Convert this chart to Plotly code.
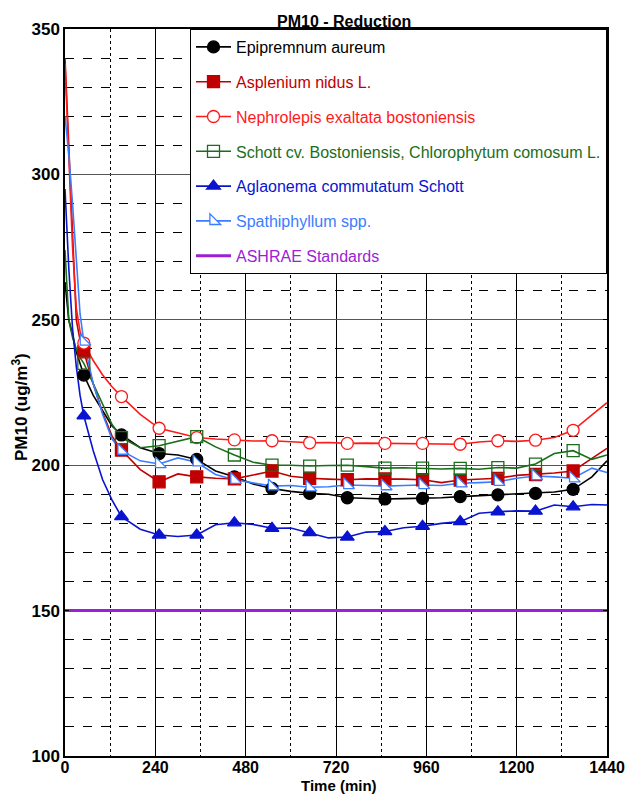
import plotly.graph_objects as go

# ---------------- data ----------------
time_min = [0, 10, 20, 30, 40, 50, 75, 100, 125, 150, 200, 250, 300, 350, 400, 450, 500,
            550, 600, 650, 700, 750, 800, 850, 900, 950, 1000, 1050, 1100, 1150, 1200,
            1250, 1300, 1350, 1400, 1440]

epipremnum = [263, 250, 245, 239, 235, 231, 224, 218.5, 213.5, 210.4, 206, 204, 203.5, 202,
              198, 196, 193.5, 192, 191, 190.3, 190, 188.8, 188.5, 188.4, 188.5, 188.6,
              188.8, 189.2, 189.5, 189.8, 190, 190.3, 190.8, 191.7, 196, 201.5]
asplenium = [340, 308, 276, 250, 243, 239, 228, 218, 210, 205.2, 198.5, 194.3, 197, 196,
             195.5, 195.3, 196.6, 198, 196.2, 195.5, 195.2, 195, 195.3, 195.3, 195.2, 195,
             194, 194.9, 195.2, 195.5, 196.5, 196.8, 197.3, 198, 202.5, 205.8]
nephrolepis = [338, 306, 275, 254, 246, 242, 236, 231, 227, 223.6, 217.5, 212.7, 211, 209.5,
               209, 208.7, 208.3, 208.4, 208, 207.7, 207.8, 207.5, 207.6, 207.5, 207.4,
               207.5, 207.3, 207.2, 208, 208.4, 208.2, 208.6, 209.5, 212, 217.3, 221.5]
schott = [274, 250, 244, 240, 237, 235, 228, 221, 214, 209.5, 206, 206.7, 208.2, 209.8,
          206.3, 203.5, 201, 200, 200, 199.7, 199.9, 200, 199.5, 199, 199.1, 199, 198.7,
          198.9, 198.6, 199.2, 199, 200.4, 204, 205, 202, 203.5]
aglaonema = [295, 268, 247, 234, 224, 217, 205, 195, 188, 182.3, 178, 176, 175.5, 176,
             179.5, 180.2, 179.6, 178.3, 178.4, 176.8, 175, 175.3, 177, 177.2, 178.5, 179,
             180, 180.6, 183.5, 184, 184.3, 184.2, 186.3, 185.7, 186.5, 186.3]
spathiphyllum = [320, 307, 290, 270, 252, 242.5, 228, 217.5, 209, 205, 201.5, 200.4, 202.5,
                 201, 196.8, 195, 194, 192.8, 193, 192.4, 192.6, 193.2, 193, 192.8, 193,
                 193.2, 193, 193.8, 194, 194.3, 195.5, 196.3, 196, 195.5, 199, 197.5]
ashrae_time = [0, 1440]
ashrae = [150, 150]

series_names = ["Epipremnum aureum", "Asplenium nidus L.", "Nephrolepis exaltata bostoniensis",
                "Schott cv. Bostoniensis, Chlorophytum comosum L.", "Aglaonema commutatum Schott",
                "Spathiphyllum spp."]
series_values = [epipremnum, asplenium, nephrolepis, schott, aglaonema, spathiphyllum]
ashrae_name = "ASHRAE Standards"

x_ticks = [0, 240, 480, 720, 960, 1200, 1440]
y_ticks = [100, 150, 200, 250, 300, 350]

# ---------------- styles ----------------
colors = ["#000000", "#c00000", "#ff1a1a", "#1a6e1a", "#0a14d0", "#3a7dff"]
symbols = ["circle", "square", "circle", "square", "triangle-up", "triangle-sw"]
marker_fill = ["#000000", "#c00000", "#ffffff", "rgba(255,255,255,0)", "#0a14d0", "#ffffff"]
ashrae_color = "#9b22d4"
FONT = "Liberation Sans, Arial, sans-serif"

fig = go.Figure()

for i, (name, vals) in enumerate(zip(series_names, series_values)):
    fig.add_trace(go.Scatter(
        x=time_min, y=vals, mode="lines",
        line=dict(color=colors[i], width=1.6),
        showlegend=False, legendgroup=f"g{i}", hoverinfo="skip"))

for i, (name, vals) in enumerate(zip(series_names, series_values)):
    mx, my = [], []
    for t, v in zip(time_min, vals):
        if t % 100 == 50:
            mx += [t, None]
            my += [v, None]
    fig.add_trace(go.Scatter(
        x=mx, y=my, mode="lines+markers", connectgaps=False,
        name=f"<span style='color:{colors[i]}'>{name}</span>",
        legendgroup=f"g{i}",
        line=dict(color=colors[i], width=1.6),
        marker=dict(symbol=symbols[i], size=12, color=marker_fill[i],
                    line=dict(color=colors[i], width=1.3))))

fig.add_trace(go.Scatter(
    x=ashrae_time, y=ashrae, mode="lines",
    name=f"<span style='color:{ashrae_color}'>{ashrae_name}</span>",
    legendgroup="g6",
    line=dict(color=ashrae_color, width=3)))

L, R, T, B = 65, 18, 29, 38
W, H = 625, 794
ph = H - T - B

fig.update_layout(
    width=W, height=H,
    margin=dict(l=L, r=R, t=T, b=B, pad=0, autoexpand=False),
    paper_bgcolor="white", plot_bgcolor="white",
    font=dict(family=FONT, color="black"),
    legend=dict(x=1, xanchor="right", y=1, yanchor="top",
                bgcolor="white", bordercolor="black", borderwidth=1,
                font=dict(family=FONT, size=16),
                tracegroupgap=11, traceorder="grouped", itemwidth=35),
    xaxis=dict(range=[0, 1440], tickvals=x_ticks, ticktext=[str(v) for v in x_ticks],
               showline=True, mirror="ticks", linecolor="black", linewidth=1.5,
               ticks="inside", ticklen=4, tickcolor="black",
               showgrid=True, gridcolor="black", gridwidth=1,
               minor=dict(dtick=120, tick0=0, showgrid=True, griddash="dot",
                          gridcolor="black", gridwidth=1, ticks=""),
               tickfont=dict(family=FONT, size=16, weight="bold"),
               ticklabelstandoff=-4,
               ticklabeloverflow="allow", automargin=False,
               zeroline=False),
    yaxis=dict(range=[100, 350], tickvals=y_ticks, ticktext=[str(v) for v in y_ticks],
               showline=True, mirror="ticks", linecolor="black", linewidth=1.5,
               ticks="inside", ticklen=4, tickcolor="black",
               showgrid=True, gridcolor="#555555", gridwidth=1,
               minor=dict(dtick=10, tick0=100, showgrid=True, griddash="dash",
                          gridcolor="black", gridwidth=1, ticks=""),
               tickfont=dict(family=FONT, size=17, weight="bold"),
               automargin=False,
               zeroline=False),
    annotations=[
        dict(text="PM10 - Reduction", xref="paper", yref="paper", x=0.515, y=1,
             yanchor="middle", showarrow=False, yshift=8,
             font=dict(family=FONT, size=16, weight="bold")),
        dict(text="Time (min)", xref="paper", yref="paper", x=0.505, y=-(786 - 756) / ph,
             yanchor="middle", showarrow=False,
             font=dict(family=FONT, size=15, weight="bold")),
        dict(text="PM10 (ug/m<sup>3</sup>)", xref="paper", yref="paper",
             x=-(L - 20) / (W - L - R), xanchor="center", y=(756 - 407) / ph,
             yanchor="middle", textangle=-90, showarrow=False,
             font=dict(family=FONT, size=17, weight="bold")),
    ],
)

fig.write_html("out.html")
